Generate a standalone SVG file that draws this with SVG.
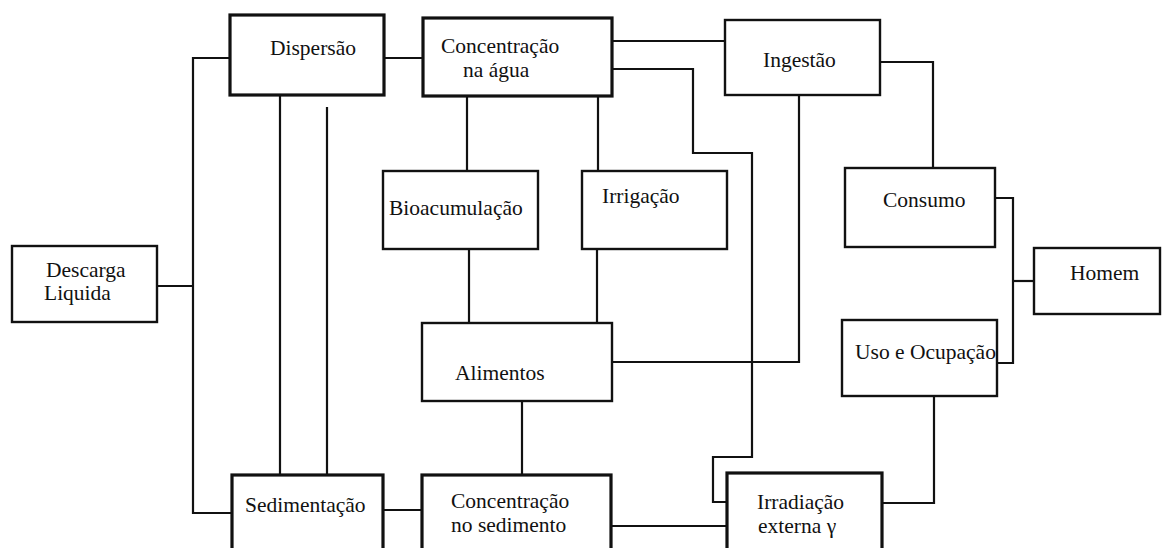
<svg xmlns="http://www.w3.org/2000/svg" width="1168" height="548" viewBox="0 0 1168 548">
<style>
.box{fill:#fff;stroke:#111;stroke-width:2.4}
.thick{stroke-width:3.2}
.c{fill:none;stroke:#111;stroke-width:2.2;stroke-linejoin:miter}
text{font-family:"Liberation Serif","Times New Roman",serif;font-size:21.5px;fill:#111}
</style>
<rect width="1168" height="548" fill="#fff"/>
<g id="connectors">
<path class="c" d="M157,286 H193"/>
<path class="c" d="M230,58 H193 V513 H232"/>
<path class="c" d="M280,95 V475"/>
<path class="c" d="M327,107 V475"/>
<path class="c" d="M384,58 H423"/>
<path class="c" d="M612,41 H725"/>
<path class="c" d="M612,69 H693 V153 H752 V457 H713 V502 H727"/>
<path class="c" d="M467,96 V171"/>
<path class="c" d="M598,96 V171"/>
<path class="c" d="M469,249 V323"/>
<path class="c" d="M597,249 V323"/>
<path class="c" d="M612,362 H799 V95"/>
<path class="c" d="M522,401 V475"/>
<path class="c" d="M383,510 H422"/>
<path class="c" d="M611,526 H727"/>
<path class="c" d="M882,503 H934 V396"/>
<path class="c" d="M880,62 H933 V168"/>
<path class="c" d="M995,198 H1013 V363 H997"/>
<path class="c" d="M1013,281 H1034"/>
</g>
<g id="descarga"><rect class="box" x="12" y="246" width="145" height="76"/><text x="46" y="277">Descarga</text><text x="44" y="300">Liquida</text></g>
<g id="dispersao"><rect class="box thick" x="230" y="15" width="154" height="80"/><text x="270" y="55">Dispersão</text></g>
<g id="conc-agua"><rect class="box thick" x="423" y="18" width="189" height="78"/><text x="441" y="53">Concentração</text><text x="463" y="77">na água</text></g>
<g id="ingestao"><rect class="box" x="725" y="20" width="155" height="75"/><text x="763" y="67">Ingestão</text></g>
<g id="bioacumulacao"><rect class="box" x="383" y="171" width="155" height="78"/><text x="389" y="215">Bioacumulação</text></g>
<g id="irrigacao"><rect class="box" x="582" y="171" width="145" height="78"/><text x="602" y="203">Irrigação</text></g>
<g id="consumo"><rect class="box" x="845" y="168" width="150" height="79"/><text x="883" y="207">Consumo</text></g>
<g id="homem"><rect class="box" x="1034" y="248" width="126" height="66"/><text x="1070" y="280">Homem</text></g>
<g id="alimentos"><rect class="box" x="422" y="323" width="190" height="78"/><text x="455" y="380">Alimentos</text></g>
<g id="uso"><rect class="box" x="842" y="320" width="155" height="76"/><text x="855" y="359">Uso e Ocupação</text></g>
<g id="sedimentacao"><rect class="box thick" x="232" y="475" width="151" height="90"/><text x="245" y="512">Sedimentação</text></g>
<g id="conc-sed"><rect class="box thick" x="422" y="475" width="189" height="90"/><text x="451" y="508">Concentração</text><text x="451" y="532">no sedimento</text></g>
<g id="irradiacao"><rect class="box thick" x="727" y="473" width="155" height="92"/><text x="757" y="509">Irradiação</text><text x="758" y="533">externa γ</text></g>
</svg>
